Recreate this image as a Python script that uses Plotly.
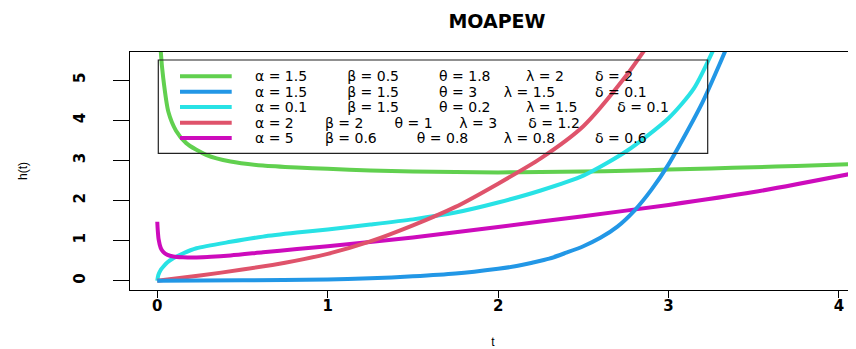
import plotly.graph_objects as go

# ---------------- data ----------------
t_green = [0.004, 0.02, 0.035, 0.065, 0.11, 0.17, 0.29, 0.43, 0.62, 0.82, 1.0, 1.25, 1.5,
           1.75, 2.0, 2.25, 2.5, 2.75, 3.0, 3.25, 3.5, 3.75, 4.1]
h_green = [8.0, 5.75, 5.05, 4.21, 3.74, 3.43, 3.13, 2.97, 2.87, 2.82, 2.79, 2.75, 2.72,
           2.71, 2.70, 2.71, 2.72, 2.74, 2.77, 2.80, 2.83, 2.86, 2.91]

t_blue = [0, 0.5, 1.0, 1.25, 1.5, 1.75, 2.0, 2.1, 2.2, 2.3, 2.4, 2.5, 2.6, 2.7, 2.8, 2.9,
          3.0, 3.1, 3.2, 3.3, 3.4]
h_blue = [0, 0.01, 0.03, 0.06, 0.11, 0.18, 0.30, 0.36, 0.45, 0.55, 0.70, 0.86, 1.07, 1.35,
          1.75, 2.27, 2.90, 3.65, 4.45, 5.40, 6.40]

t_cyan = [0, 0.006, 0.02, 0.035, 0.06, 0.094, 0.15, 0.23, 0.43, 0.62, 0.82, 1.0, 1.25,
          1.5, 1.75, 2.0, 2.25, 2.5, 2.75, 3.0, 3.15, 3.3]
h_cyan = [0, 0.14, 0.27, 0.35, 0.46, 0.56, 0.68, 0.81, 0.97, 1.10, 1.20, 1.28, 1.40,
          1.53, 1.70, 1.95, 2.25, 2.62, 3.22, 4.05, 4.80, 6.10]

t_red = [0, 0.25, 0.5, 0.75, 1.0, 1.25, 1.5, 1.75, 2.0, 2.25, 2.5, 2.75, 2.9]
h_red = [0, 0.13, 0.28, 0.45, 0.67, 0.98, 1.38, 1.84, 2.42, 3.05, 3.85, 5.10, 6.00]

t_mag = [0, 0.003, 0.008, 0.02, 0.035, 0.06, 0.094, 0.15, 0.23, 0.43, 0.62, 0.82, 1.0,
         1.5, 2.0, 2.5, 3.0, 3.5, 4.1]
h_mag = [1.47, 1.25, 1.03, 0.82, 0.72, 0.645, 0.605, 0.585, 0.58, 0.63, 0.71, 0.79, 0.86,
         1.08, 1.34, 1.61, 1.89, 2.21, 2.69]

alpha = ["1.5", "1.5", "0.1", "2", "5"]
beta = ["0.5", "1.5", "1.5", "2", "0.6"]
theta = ["1.8", "3", "0.2", "1", "0.8"]
lam = ["2", "1.5", "1.5", "3", "0.8"]
delta = ["2", "0.1", "0.1", "1.2", "0.6"]

colors = ["#61D04F", "#2297E6", "#28E2E5", "#DF536B", "#CD0BBC"]
x_ticks = [0, 1, 2, 3, 4]
y_ticks = [0, 1, 2, 3, 4, 5]

series_t = [t_green, t_blue, t_cyan, t_red, t_mag]
series_h = [h_green, h_blue, h_cyan, h_red, h_mag]

# ---------------- layout helpers ----------------
# the page body adds an 8px offset around the figure
OFF = 8
W, H = 856 - OFF, 349 - OFF
P_LEFT, P_TOP, P_BOTTOM, P_RIGHT = 130, 52, 290, 856   # plot area in page pixels
ML = P_LEFT - OFF
MT = P_TOP - OFF
MB = H - (P_BOTTOM - OFF)
MR = W - (P_RIGHT - OFF)
PW = P_RIGHT - P_LEFT
PH = P_BOTTOM - P_TOP


def fx(px):
    return (px - P_LEFT) / PW


def fy(py):
    return (P_BOTTOM - py) / PH


# DejaVu Sans advance widths (em)
ADV = {" ": 0.318, "\u00a0": 0.318, ".": 0.318, "=": 0.838, "α": 0.659, "β": 0.638,
       "θ": 0.612, "λ": 0.592, "δ": 0.612}
LEG_FS = 14


def tw(s):
    return sum(ADV.get(c, 0.636) for c in s) * LEG_FS


group_offsets = [
    [0, 93, 182, 269.5, 340.5],
    [0, 93, 182, 249.5, 340.0],
    [0, 93, 182, 269.5, 362.0],
    [0, 71, 138.6, 206.0, 272.0],
    [0, 71, 160.5, 249.5, 340.0],
]

labels = []
for i in range(5):
    groups = [f"α = {alpha[i]}", f"β = {beta[i]}", f"θ = {theta[i]}",
              f"λ = {lam[i]}", f"δ = {delta[i]}"]
    s = groups[0]
    for g, off in zip(groups[1:], group_offsets[i][1:]):
        n = max(2, round((off - tw(s)) / (ADV[" "] * LEG_FS)))
        s += "\u00a0" * n + g
    labels.append(s)

# ---------------- figure ----------------
fig = go.Figure()
order = [0, 2, 4, 3, 1]
for k in order:
    fig.add_trace(go.Scatter(
        x=series_t[k], y=series_h[k], mode="lines", name=labels[k],
        line=dict(color=colors[k], width=4, shape="spline", smoothing=0.7),
        showlegend=False, hoverinfo="skip"))

shapes = [dict(type="rect", xref="paper", yref="paper",
               x0=fx(158.3), x1=fx(707.7), y0=fy(153.3), y1=fy(60),
               line=dict(color="#222222", width=1.2), fillcolor="rgba(0,0,0,0)")]
annotations = []
row_y = [76.3, 91.7, 107.0, 122.7, 138.0]
for i in range(5):
    shapes.append(dict(type="line", xref="paper", yref="paper",
                       x0=fx(180), x1=fx(231.7), y0=fy(row_y[i]), y1=fy(row_y[i]),
                       line=dict(color=colors[i], width=4)))
    annotations.append(dict(xref="paper", yref="paper", x=fx(254), y=fy(row_y[i]),
                            xanchor="left", yanchor="middle", showarrow=False,
                            text=labels[i], borderpad=0,
                            font=dict(family="DejaVu Sans", size=LEG_FS, color="black")))

fig.update_layout(
    width=W, height=H,
    margin=dict(l=ML, r=MR, t=MT, b=MB, pad=0),
    paper_bgcolor="white", plot_bgcolor="white",
    title=dict(text="<b>MOAPEW</b>", x=(497 - OFF) / W, xref="container", xanchor="center",
               y=1 - (21 - OFF) / H, yref="container", yanchor="middle",
               font=dict(family="DejaVu Sans", size=19, color="black")),
    xaxis=dict(range=[-0.16, 4.10], tickvals=x_ticks, ticks="outside", ticklen=7,
               tickwidth=1, tickcolor="black", showline=True, linecolor="black",
               linewidth=1, mirror=True, showgrid=False, zeroline=False,
               ticklabelstandoff=-5,
               tickfont=dict(family="DejaVu Sans", size=15, color="black", weight="bold"),
               title=dict(text="t", standoff=24,
                          font=dict(family="Liberation Sans", size=12, color="black"))),
    yaxis=dict(range=[-0.23, 5.70], tickvals=y_ticks, ticks="outside", ticklen=16,
               tickwidth=1, tickcolor="black", showline=True, linecolor="black",
               linewidth=1, mirror=False, showgrid=False, zeroline=False,
               tickangle=-90, ticklabelstandoff=22,
               tickfont=dict(family="DejaVu Sans", size=15, color="black", weight="bold"),
               title=dict(text="h(t)", standoff=40,
                          font=dict(family="Liberation Sans", size=12, color="black"))),
    shapes=shapes, annotations=annotations,
)

fig.write_html("out.html")
